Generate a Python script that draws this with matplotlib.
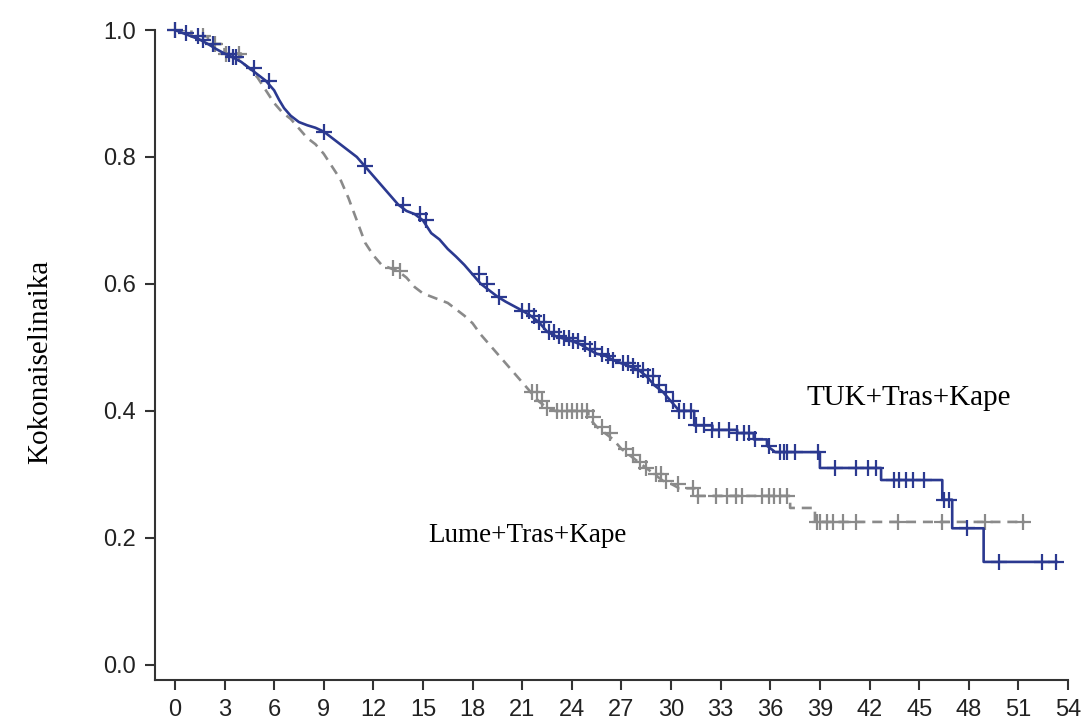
import numpy as np
import matplotlib
matplotlib.use("Agg")
import matplotlib.pyplot as plt

# Kaplan-Meier steps (months, survival probability)
tuk_times = [0, 0.5, 1.0, 1.5, 2.0, 2.5, 3.0, 3.5, 4.0, 4.5, 5.0, 5.5, 6.0, 6.3, 6.6,
             7.0, 7.5, 8.0, 8.5, 9.0, 9.5, 10.0, 10.5, 11.0, 11.5, 12.0, 12.5, 13.0,
             13.5, 14.0, 14.5, 15.0, 15.5, 16.0, 16.5, 17.0, 17.5, 18.0, 18.5, 19.0,
             19.5, 20.0, 20.5, 21.0, 21.5, 22.0, 22.5, 23.0, 23.5, 24.0, 24.5, 25.0,
             25.5, 26.0, 26.5, 27.0, 27.5, 28.0, 28.5, 29.0, 29.5, 30.0, 30.5, 31.4,
             32.5, 34.0, 35.0, 35.8, 36.3, 39.0, 42.7, 46.4, 47.0, 48.9]
tuk_surv = [1.0, 0.995, 0.99, 0.985, 0.978, 0.97, 0.963, 0.957, 0.95, 0.94, 0.93, 0.92,
            0.905, 0.89, 0.877, 0.865, 0.855, 0.85, 0.846, 0.84, 0.83, 0.82, 0.81, 0.80,
            0.785, 0.77, 0.755, 0.74, 0.725, 0.715, 0.71, 0.70, 0.68, 0.67, 0.655, 0.643,
            0.63, 0.615, 0.60, 0.59, 0.58, 0.572, 0.565, 0.558, 0.55, 0.54, 0.525, 0.518,
            0.514, 0.51, 0.505, 0.497, 0.49, 0.487, 0.48, 0.475, 0.47, 0.465, 0.455, 0.44,
            0.43, 0.415, 0.40, 0.377, 0.37, 0.365, 0.355, 0.345, 0.335, 0.31, 0.291,
            0.26, 0.215, 0.162]
tuk_end = 53.3
tuk_censor = [0, 0.7, 1.4, 1.7, 2.3, 3.3, 3.5, 3.7, 4.8, 5.7, 9.0, 11.5, 13.8, 14.8, 15.2,
              18.4, 18.9, 19.6, 21.0, 21.4, 21.7, 22.0, 22.3, 22.6, 22.9, 23.2, 23.5,
              23.8, 24.1, 24.4, 24.8, 25.1, 25.4, 25.8, 26.2, 26.5, 27.1, 27.4, 27.7,
              28.0, 28.3, 28.6, 28.9, 29.3, 29.7, 30.1, 30.5, 30.8, 31.2, 31.5, 32.0,
              32.5, 32.9, 33.5, 34.0, 34.4, 34.7, 35.1, 35.9, 36.6, 36.8, 37.0, 37.5,
              38.9, 39.9, 41.2, 41.9, 42.4, 43.5, 43.8, 44.2, 44.6, 45.3, 46.5, 46.8,
              47.9, 49.8, 52.4, 53.3]

lume_times = [0, 1, 2, 3, 4, 4.5, 5.0, 5.5, 6.0, 6.5, 7.0, 7.5, 8.0, 8.5, 9.0, 9.5, 10.0,
              10.5, 11.0, 11.5, 12.0, 12.5, 13.0, 13.5, 14.0, 14.5, 15.0, 15.5, 16.0,
              16.5, 17.0, 17.5, 18.0, 18.5, 19.0, 19.5, 20.0, 20.5, 21.0, 21.5, 22.0,
              22.5, 23.0, 25.0, 25.5, 26.0, 26.5, 27.0, 27.5, 28.0, 28.5, 29.0, 29.5,
              30.0, 30.5, 31.5, 37.2, 38.7]
lume_surv = [1.0, 0.99, 0.978, 0.963, 0.95, 0.94, 0.925, 0.905, 0.885, 0.87, 0.86, 0.845,
             0.83, 0.82, 0.805, 0.785, 0.765, 0.735, 0.70, 0.665, 0.645, 0.63, 0.625,
             0.62, 0.61, 0.595, 0.585, 0.58, 0.575, 0.57, 0.56, 0.55, 0.538, 0.52, 0.505,
             0.49, 0.475, 0.46, 0.445, 0.43, 0.415, 0.405, 0.40, 0.39, 0.375, 0.365,
             0.355, 0.34, 0.33, 0.32, 0.31, 0.30, 0.29, 0.285, 0.278, 0.266, 0.247, 0.225]
lume_end = 51.4
lume_censor = [0, 1.7, 2.4, 3.1, 3.9, 13.2, 13.6, 21.6, 21.9, 22.2, 22.5, 23.1, 23.4,
               23.7, 24.0, 24.3, 24.6, 24.9, 25.3, 25.8, 26.3, 27.3, 27.7, 28.1, 28.5,
               29.1, 29.4, 29.7, 30.4, 31.3, 31.6, 32.7, 33.4, 33.9, 34.3, 35.5, 35.9,
               36.2, 36.6, 37.0, 38.8, 39.0, 39.4, 39.8, 40.4, 41.2, 43.7, 46.4, 49.0, 51.3]

x_ticks = list(range(0, 55, 3))
y_ticks = [0.0, 0.2, 0.4, 0.6, 0.8, 1.0]

blue = "#2b3990"
grey = "#8a8a8a"


def step_at(times, surv, t):
    idx = np.searchsorted(times, t, side="right") - 1
    return np.asarray(surv)[idx]


def km_path(times, surv, end, gap=0.6):
    # many tiny events read as a smooth run; only long gaps are drawn as real steps
    xs, ys = [times[0]], [surv[0]]
    nxt = list(times[1:]) + [end]
    for i in range(len(times)):
        t1 = nxt[i]
        y1 = surv[i + 1] if i + 1 < len(surv) else surv[i]
        if t1 - times[i] > gap or i + 1 >= len(surv):
            xs.append(t1)
            ys.append(surv[i])
        xs.append(t1)
        ys.append(y1)
    return xs, ys


fig = plt.figure(figsize=(10.88, 7.2), dpi=100)
ax = fig.add_axes([0.1425, 0.0556, 0.8391, 0.9027])

# grey placebo arm (dashed)
lx, ly = km_path(lume_times, lume_surv, lume_end)
ax.plot(lx, ly, color=grey, lw=1.9, ls=(0, (3.8, 2.6)), zorder=2)
ax.plot(lume_censor, step_at(lume_times, lume_surv, lume_censor), ls="none", marker="+",
        ms=11, mew=1.6, color=grey, zorder=2, clip_on=False)

# blue treatment arm
tx, ty = km_path(tuk_times, tuk_surv, tuk_end)
ax.plot(tx, ty, color=blue, lw=1.9, zorder=3)
ax.plot(tuk_censor, step_at(tuk_times, tuk_surv, tuk_censor), ls="none", marker="+",
        ms=11, mew=1.6, color=blue, zorder=3, clip_on=False)

ax.text(38.2, 0.421, "TUK+Tras+Kape", family="Liberation Serif", fontsize=21,
        va="center", ha="left")
ax.text(15.3, 0.204, "Lume+Tras+Kape", family="Liberation Serif", fontsize=19.5,
        va="center", ha="left")

fig.text(0.037, 0.497, "Kokonaiselinaika", family="Liberation Serif", fontsize=21,
         rotation=90, va="center", ha="center")

ax.set_xlim(-1.2, 54)
ax.set_ylim(-0.024, 1.0)
ax.set_xticks(x_ticks)
ax.set_yticks(y_ticks)
ax.set_yticklabels([f"{v:.1f}" for v in y_ticks])

for s in ["top", "right"]:
    ax.spines[s].set_visible(False)
for s in ["left", "bottom"]:
    ax.spines[s].set_linewidth(1.5)
    ax.spines[s].set_color("#333333")

ax.tick_params(axis="both", direction="out", length=7, width=1.5, color="#333333",
               labelsize=17, labelcolor="#222222", pad=7)
for lab in ax.get_xticklabels() + ax.get_yticklabels():
    lab.set_family("Liberation Sans")

fig.savefig("out.png", dpi=100)
